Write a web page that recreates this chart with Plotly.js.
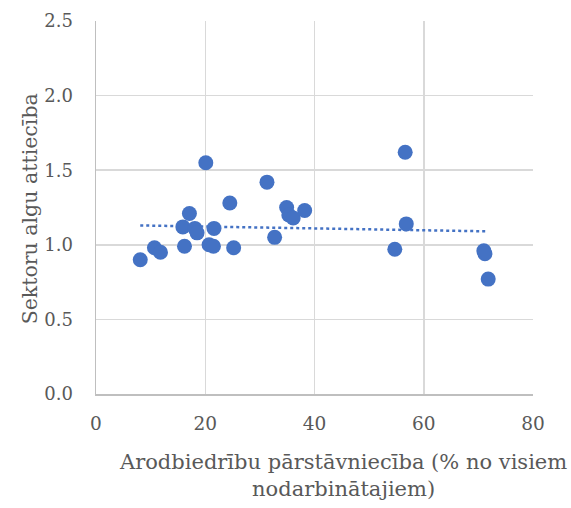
<!DOCTYPE html>
<html><head><meta charset="utf-8">
<script src="https://cdn.plot.ly/plotly-3.0.1.min.js"></script>
<style>html,body{margin:0;padding:0;background:#fff}#c{width:571px;height:508px}</style>
</head><body><div id="c"></div>
<script>
const membership = [8.1, 10.7, 11.8, 16.2, 15.9, 17.1, 18.1, 18.5, 20.1, 20.7, 21.5, 21.6, 24.5, 25.2, 31.3, 32.7, 34.9, 35.3, 36.1, 38.2, 54.7, 56.6, 56.8, 71.0, 71.2, 71.8];
const wageRatio  = [0.90, 0.98, 0.95, 0.99, 1.12, 1.21, 1.11, 1.08, 1.55, 1.00, 0.99, 1.11, 1.28, 0.98, 1.42, 1.05, 1.25, 1.20, 1.18, 1.23, 0.97, 1.62, 1.14, 0.96, 0.94, 0.77];
const xTicks = [0, 20, 40, 60, 80];
const yTicks = [0, 0.5, 1.0, 1.5, 2.0, 2.5];
const yTickLabels = ['0.0', '0.5', '1.0', '1.5', '2.0', '2.5'];
const xTitle = 'Arodbiedrību pārstāvniecība (% no visiem<br>nodarbinātajiem)';
const yTitle = 'Sektoru algu attiecība';

// linear least-squares trendline (as Excel's linear trendline)
const n = membership.length;
const mx = membership.reduce((a,b)=>a+b,0)/n;
const my = wageRatio.reduce((a,b)=>a+b,0)/n;
let sxy=0, sxx=0;
for (let i=0;i<n;i++){ sxy += (membership[i]-mx)*(wageRatio[i]-my); sxx += (membership[i]-mx)**2; }
const slope = sxy/sxx, icpt = my - slope*mx;
const xmin = Math.min(...membership), xmax = Math.max(...membership);
const trendX = [xmin, xmax];
const trendY = trendX.map(v => icpt + slope*v);

const FAM = 'DejaVu Serif';
const C = '#595959';
const data = [
  {x: trendX, y: trendY, type: 'scatter', mode: 'lines',
   line: {color: '#4472C4', width: 2.5, dash: 'dot'}, hoverinfo: 'skip'},
  {x: membership, y: wageRatio, type: 'scatter', mode: 'markers',
   marker: {color: '#4472C4', size: 15, line: {width: 0}}}
];
const layout = {
  width: 571, height: 508,
  margin: {l: 96, r: 38, t: 21, b: 114},
  paper_bgcolor: '#fff', plot_bgcolor: '#fff',
  showlegend: false,
  font: {family: FAM, size: 18, color: C},
  xaxis: {range: [0, 80], tickvals: xTicks, ticktext: xTicks.map(String),
    showgrid: true, gridcolor: '#d9d9d9', gridwidth: 1.5,
    zeroline: false, showline: true, linecolor: '#bfbfbf', linewidth: 1.5,
    ticks: '', ticklabelstandoff: 12, tickfont: {family: FAM, size: 18.5, color: C}, fixedrange: true},
  yaxis: {range: [0, 2.5], tickvals: yTicks, ticktext: yTickLabels,
    showgrid: true, gridcolor: '#d9d9d9', gridwidth: 1.5,
    zeroline: false, showline: true, linecolor: '#bfbfbf', linewidth: 1.5,
    ticks: '', ticklabelstandoff: 18, tickfont: {family: FAM, size: 18, color: C}, fixedrange: true},
  annotations: [{
    text: xTitle, xref: 'paper', yref: 'paper', x: 0.5 + 28/436, y: 0,
    xanchor: 'center', yanchor: 'top', yshift: -54, showarrow: false,
    font: {family: FAM, size: 21, color: C}, align: 'center'
  }, {
    text: yTitle, xref: 'paper', yref: 'paper', x: 0, y: 0.495,
    xanchor: 'center', yanchor: 'middle', xshift: -66, textangle: -90, showarrow: false,
    font: {family: FAM, size: 20.5, color: C}
  }]
};
Plotly.newPlot('c', data, layout, {displayModeBar: false, staticPlot: true});
</script></body></html>
